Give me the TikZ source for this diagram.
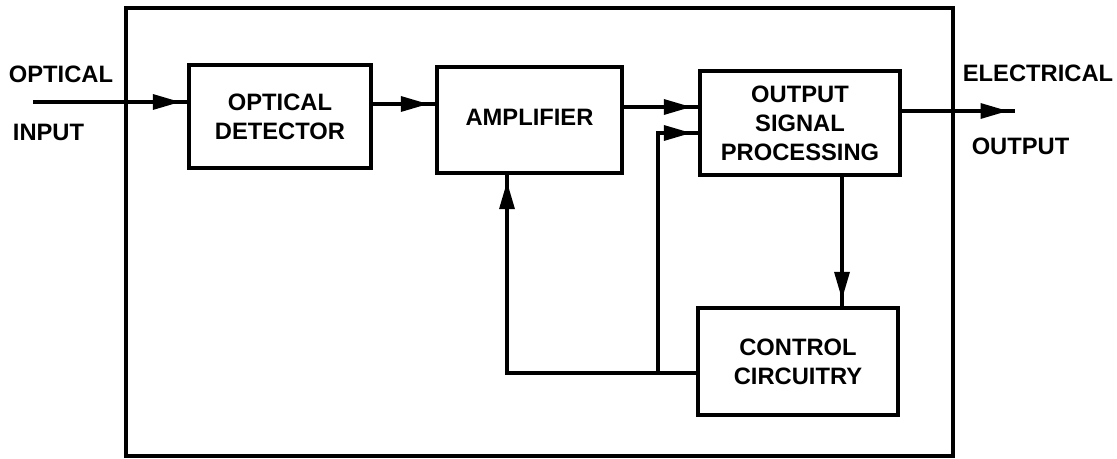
\documentclass[tikz,border=0pt]{standalone}
\usepackage{fontspec}
\setmainfont{Liberation Sans}
\usetikzlibrary{arrows.meta,decorations.markings,calc}

\begin{document}
\begin{tikzpicture}[
    block/.style={draw, rectangle, line width=1.9pt, minimum width=3.7cm, minimum height=2.1cm, align=center, font=\fontsize{13.5}{16.5}\selectfont\bfseries},
    io/.style={font=\fontsize{13.5}{16.5}\selectfont\bfseries},
    frame/.style={draw, rectangle, line width=1.9pt},
    flow/.style={line width=1.9pt, postaction={decorate},
        decoration={markings, mark=at position -0.14cm with {\arrow{Triangle[length=0.55cm,width=0.3cm]}}}},
]

\useasboundingbox (0,0) rectangle (22.34,9.18);

% System frame
\draw[frame] (2.52,0.06) rectangle (19.06,9.02);

% Blocks
\node[block, minimum width=3.64cm, minimum height=2.06cm] (det) at (5.6,6.85) {OPTICAL\\DETECTOR};
\node[block, minimum height=2.12cm] (amp) at (10.59,6.78) {\raisebox{0.1cm}{AMPLIFIER}};
\node[block, minimum width=4.0cm, minimum height=2.08cm] (osp) at (16.0,6.72) {OUTPUT\\SIGNAL\\PROCESSING};
\node[block, minimum width=4.0cm, minimum height=2.14cm] (ctrl) at (15.96,1.95) {CONTROL\\CIRCUITRY};

% Input and output labels
\node[io] (optin) at (1.22,7.70) {OPTICAL};
\node[io] (inp) at (0.97,6.54) {INPUT};
\node[io] (elout) at (20.76,7.71) {ELECTRICAL};
\node[io] (outp) at (20.41,6.25) {OUTPUT};

% Free ends and bends
\coordinate (in) at (0.66,7.14);
\coordinate (out) at (20.30,6.96);
\coordinate (fb) at (10.14,1.72);
\coordinate (jn) at (13.16,1.72);

% Signal path
\draw[flow] (in) -- (in -| det.west);
\draw[flow] ([yshift=0.25cm]det.east) coordinate (d1) -- (d1 -| amp.west);
\draw[flow] ([yshift=0.26cm]amp.east) coordinate (a1) -- (a1 -| osp.west);
\draw[flow] (osp.east |- out) -- (out);
\draw[flow] ([xshift=0.84cm]osp.south) coordinate (o1) -- (o1 |- ctrl.north);

% Control loops
\draw[flow] (fb -| ctrl.west) -- (fb) -- (fb |- amp.south);
\draw[flow] (jn) |- ([yshift=-0.2cm]osp.west);

\end{tikzpicture}
\end{document}
